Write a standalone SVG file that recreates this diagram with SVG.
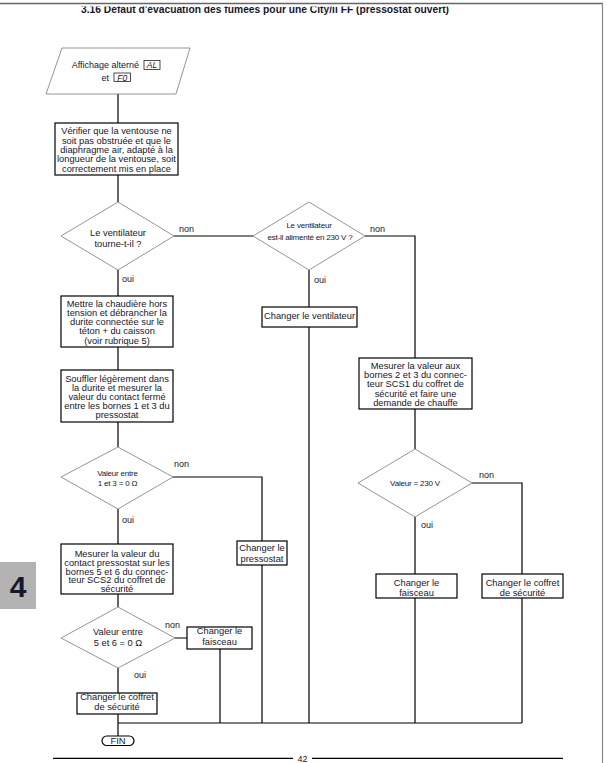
<svg xmlns="http://www.w3.org/2000/svg" width="607" height="763" viewBox="0 0 607 763">
<style>
.box{fill:#fff;stroke:#000;stroke-width:1.2}
.dia{fill:#fff;stroke:#7a7a7a;stroke-width:0.8}
.conn{fill:none;stroke:#000;stroke-width:1.2}
text{font-family:"Liberation Sans",Arial,sans-serif;fill:#16162e}
.t{font-size:9.3px;text-anchor:middle}
.s{font-size:8px;text-anchor:middle;letter-spacing:-0.2px}
.lbl{font-size:9px}
.seg{font-size:8.5px;font-style:italic;text-anchor:middle}
.segbox{fill:#fff;stroke:#222;stroke-width:0.8}
</style>
<defs>
<clipPath id="titleclip"><rect x="0" y="6.5" width="607" height="20"/></clipPath>
</defs>
<rect x="0" y="0" width="607" height="763" fill="#fff"/>
<text x="265" y="12.5" font-size="11" font-weight="bold" text-anchor="middle" textLength="368" lengthAdjust="spacingAndGlyphs" clip-path="url(#titleclip)">3.16 Défaut d'évacuation des fumées pour une City/ii FF (pressostat ouvert)</text>
<line x1="0" y1="3.5" x2="603" y2="3.5" stroke="#666" stroke-width="1.5"/>
<line x1="602.5" y1="3" x2="602.5" y2="763" stroke="#888" stroke-width="1.2"/>

<g id="connectors">
<path class="conn" d="M118,94 V123 M118,175 V202 M118,270 V296 M118,347 V370 M118,422 V447 M118,509 V544 M118,594 V607 M118,668 V693 M118,714 V736"/>
<path class="conn" d="M174,236 H253 M365,236 H415 V358 M415,409 V449 M415,517 V574 M472,483 H522 V574"/>
<path class="conn" d="M309,270 V307 M309,327 V723 M173,477 H262 V541 M262,565 V723 M175,638 H187 M220,649 V723 M415,598 V723 M522,598 V723 M118,723 H522"/>
</g>

<g id="start">
<polygon class="dia" points="62,48 190,48 176,94 46,94"/>
<text class="lbl" x="71.7" y="68" font-size="9.3">Affichage alterné</text>
<rect class="segbox" x="144" y="60.5" width="16" height="9"/>
<text class="seg" x="152" y="68.3">AL</text>
<text class="lbl" x="101.5" y="80.5" font-size="9.3">et</text>
<rect class="segbox" x="114" y="73" width="16.5" height="8.5"/>
<text class="seg" x="122.3" y="80.6">F0</text>
</g>

<g id="verifier">
<rect class="box" x="55" y="123" width="123" height="52"/>
<text class="t" x="116.5" y="134.3">Vérifier que la ventouse ne</text>
<text class="t" x="116.5" y="143.7">soit pas obstruée et que le</text>
<text class="t" x="116.5" y="153">diaphragme air, adapté à la</text>
<text class="t" x="116.5" y="162.4">longueur de la ventouse, soit</text>
<text class="t" x="116.5" y="171.7">correctement mis en place</text>
</g>

<g id="q-tourne">
<polygon class="dia" points="61,236 118,202 174,236 118,270"/>
<text class="t" x="118" y="236.3" font-size="9">Le ventilateur</text>
<text class="t" x="118" y="247.3" font-size="9">tourne-t-il ?</text>
<text class="lbl" x="179" y="232">non</text>
<text class="lbl" x="122" y="282">oui</text>
</g>

<g id="q-alimente">
<polygon class="dia" points="253,236 309,202 365,236 309,270"/>
<text class="s" x="309" y="228">Le ventilateur</text>
<text class="s" x="310" y="240">est-il alimenté en 230 V ?</text>
<text class="lbl" x="370" y="232">non</text>
<text class="lbl" x="314" y="283">oui</text>
</g>

<g id="changer-ventilateur">
<rect class="box" x="262" y="307" width="95" height="20"/>
<text class="t" x="309.5" y="319">Changer le ventilateur</text>
</g>

<g id="mettre-hors-tension">
<rect class="box" x="61" y="296" width="112" height="51"/>
<text class="t" x="117" y="306.6">Mettre la chaudière hors</text>
<text class="t" x="117" y="315.7">tension et débrancher la</text>
<text class="t" x="117" y="325">durite connectée sur le</text>
<text class="t" x="117" y="334">téton + du caisson</text>
<text class="t" x="117" y="344">(voir rubrique 5)</text>
</g>

<g id="souffler">
<rect class="box" x="61" y="370" width="112" height="52"/>
<text class="t" x="117" y="381.6">Souffler légèrement dans</text>
<text class="t" x="117" y="390.7">la durite et mesurer la</text>
<text class="t" x="117" y="400">valeur du contact fermé</text>
<text class="t" x="117" y="408.8">entre les bornes 1 et 3 du</text>
<text class="t" x="117" y="418.3">pressostat</text>
</g>

<g id="q-valeur-13">
<polygon class="dia" points="61,477 118,447 173,477 118,509"/>
<text class="s" x="117.5" y="476">Valeur entre</text>
<text class="s" x="117.5" y="486">1 et 3 = 0 Ω</text>
<text class="lbl" x="174" y="467">non</text>
<text class="lbl" x="122" y="523">oui</text>
</g>

<g id="changer-pressostat">
<rect class="box" x="237" y="541" width="50" height="24"/>
<text class="t" x="262" y="550.6">Changer le</text>
<text class="t" x="262" y="562.3">pressostat</text>
</g>

<g id="mesurer-scs2">
<rect class="box" x="61" y="544" width="112" height="50"/>
<text class="t" x="117" y="556.6">Mesurer la valeur du</text>
<text class="t" x="117" y="565.6">contact pressostat sur les</text>
<text class="t" x="117" y="574.6">bornes 5 et 6 du connec-</text>
<text class="t" x="117" y="583.4">teur SCS2 du coffret de</text>
<text class="t" x="117" y="592.4">sécurité</text>
</g>

<g id="q-valeur-56">
<polygon class="dia" points="61,638 118,607 175,638 118,668"/>
<text class="t" x="118" y="635" font-size="9">Valeur entre</text>
<text class="t" x="118" y="646" font-size="9">5 et 6 = 0 Ω</text>
<text class="lbl" x="165" y="628">non</text>
<text class="lbl" x="134" y="678">oui</text>
</g>

<g id="changer-faisceau-1">
<rect class="box" x="187" y="627" width="65" height="22"/>
<text class="t" x="219.5" y="634.3">Changer le</text>
<text class="t" x="219.5" y="645">faisceau</text>
</g>

<g id="changer-coffret-1">
<rect class="box" x="77" y="693" width="80" height="21"/>
<text class="t" x="117" y="699.5">Changer le coffret</text>
<text class="t" x="117" y="710.3">de sécurité</text>
</g>

<g id="mesurer-scs1">
<rect class="box" x="359" y="358" width="113" height="51"/>
<text class="t" x="415.5" y="369">Mesurer la valeur aux</text>
<text class="t" x="415.5" y="378.3">bornes 2 et 3 du connec-</text>
<text class="t" x="415.5" y="387.4">teur SCS1 du coffret de</text>
<text class="t" x="415.5" y="397.2">sécurité et faire une</text>
<text class="t" x="415.5" y="406">demande de chauffe</text>
</g>

<g id="q-230">
<polygon class="dia" points="358,483 415,449 472,483 415,517"/>
<text class="s" x="415" y="486">Valeur = 230 V</text>
<text class="lbl" x="479" y="478">non</text>
<text class="lbl" x="421" y="528">oui</text>
</g>

<g id="changer-faisceau-2">
<rect class="box" x="376" y="574" width="81" height="24"/>
<text class="t" x="416.5" y="586">Changer le</text>
<text class="t" x="416.5" y="596">faisceau</text>
</g>

<g id="changer-coffret-2">
<rect class="box" x="482" y="574" width="81" height="24"/>
<text class="t" x="522.5" y="586">Changer le coffret</text>
<text class="t" x="522.5" y="596">de sécurité</text>
</g>

<g id="fin">
<rect class="box" x="102" y="736" width="32" height="9.5" rx="4.75" stroke-width="0.9"/>
<text class="t" x="118" y="744" font-size="9">FIN</text>
</g>

<g id="footer">
<line x1="53" y1="758.3" x2="293" y2="758.3" stroke="#000" stroke-width="1.2"/>
<text x="302.5" y="762" font-size="9" text-anchor="middle" fill="#1a2a4a">42</text>
<line x1="312" y1="758.3" x2="563" y2="758.3" stroke="#000" stroke-width="1.2"/>
</g>

<g id="tab">
<rect x="0" y="562" width="36" height="47" fill="#b3b3b3"/>
<text x="18" y="597" font-size="30" font-weight="bold" text-anchor="middle" fill="#111">4</text>
</g>
</svg>
